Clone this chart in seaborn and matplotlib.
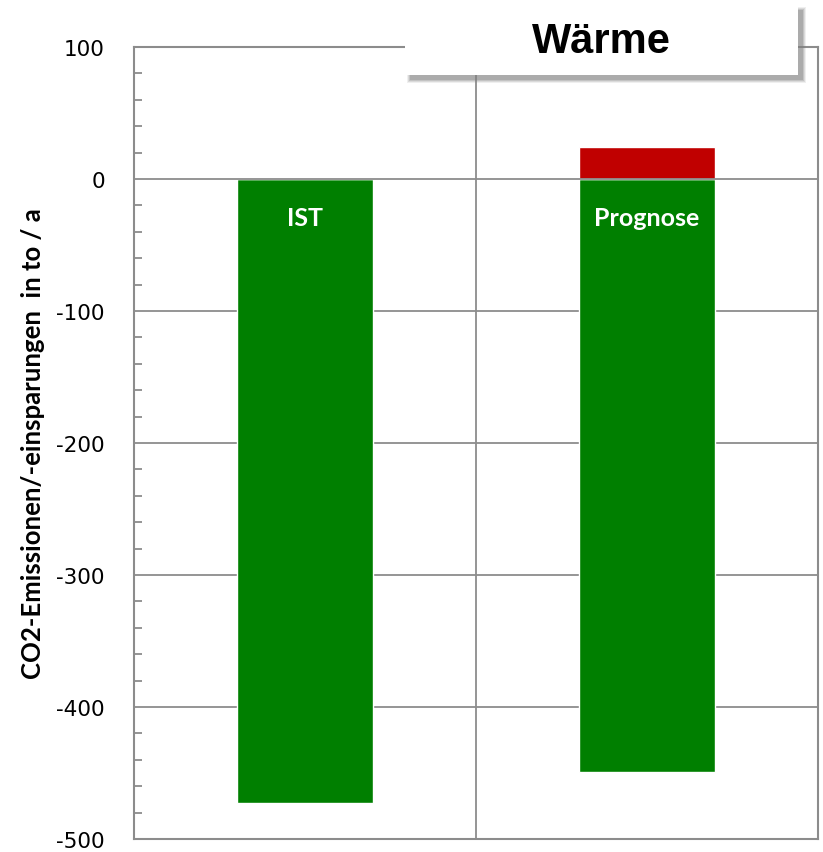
import matplotlib
matplotlib.use("Agg")
import matplotlib.pyplot as plt
import seaborn as sns
import pandas as pd
from matplotlib.patches import FancyBboxPatch
from matplotlib.ticker import MultipleLocator

categories = ["IST", "Prognose"]
savings = [-473, -449]     # green part
emissions = [0, 24]        # red part

sns.set_style("white")
plt.rcParams["font.family"] = ["DejaVu Sans"]
plt.rcParams["axes.unicode_minus"] = False
plt.rcParams["text.color"] = "black"
plt.rcParams["axes.labelcolor"] = "black"
plt.rcParams["ytick.labelcolor"] = "black"

fig = plt.figure(figsize=(8.23, 8.53), dpi=100)
ax = fig.add_axes([134 / 823, 13 / 853, 684 / 823, 792 / 853])

df = pd.DataFrame({"cat": categories, "sav": savings, "emi": emissions})
sns.barplot(data=df, x="cat", y="sav", color="#007f00", width=0.4, saturation=1, ax=ax, zorder=2)
sns.barplot(data=df, x="cat", y="emi", color="#c00000", width=0.4, saturation=1, ax=ax, zorder=2)

ax.set_xlim(-0.5, 1.5)
ax.set_ylim(-500, 100)
ax.yaxis.set_major_locator(MultipleLocator(100))
ax.yaxis.set_minor_locator(MultipleLocator(20))
ax.set_xticks([])
ax.set_xlabel("")
ax.set_ylabel("CO2-Emissionen/-einsparungen  in to / a", fontsize=18.5, fontweight="bold",
              family=["Lato", "DejaVu Sans"], labelpad=8)

gc = "#8c8c8c"
for y in range(-400, 100, 100):
    ax.axhline(y, color=gc, lw=1.3, zorder=1 if y != 0 else 3)
ax.axvline(0.5, color=gc, lw=1.3, zorder=1)
for s in ax.spines.values():
    s.set_color(gc)
    s.set_linewidth(1.5)
ax.tick_params(axis="y", which="major", direction="out", length=9, color=gc, width=1.3,
               labelsize=15.5, pad=12)
ax.tick_params(axis="y", which="minor", direction="in", length=6, color=gc, width=1.3, left=True)

for i, c in enumerate(categories):
    ax.text(i, -29, c, color="white", fontsize=18, fontweight="bold", ha="center", va="center",
            family=["Lato", "DejaVu Sans"], zorder=4)

# title box with soft shadow
x0, y0, w, h = 405 / 823, (853 - 76) / 853, 393 / 823, 70 / 853
for k, a in [(3, 0.12), (2, 0.18), (1, 0.25), (0, 0.35)]:
    sh = FancyBboxPatch((x0 + (5 - k) / 823, y0 - (5 + k) / 853), w + 2 * k / 823, h + 2 * k / 853,
                        boxstyle="square,pad=0", transform=fig.transFigure,
                        facecolor="#808080", edgecolor="none", alpha=a, zorder=5)
    fig.patches.append(sh)
box = FancyBboxPatch((x0, y0), w, h, boxstyle="square,pad=0", transform=fig.transFigure,
                     facecolor="white", edgecolor="none", zorder=6)
fig.patches.append(box)
fig.text(601 / 823, (853 - 42) / 853, "Wärme", fontsize=30, fontweight="bold",
         family=["Liberation Sans", "DejaVu Sans"], ha="center", va="center", zorder=7)

fig.savefig("out.png", dpi=100)
